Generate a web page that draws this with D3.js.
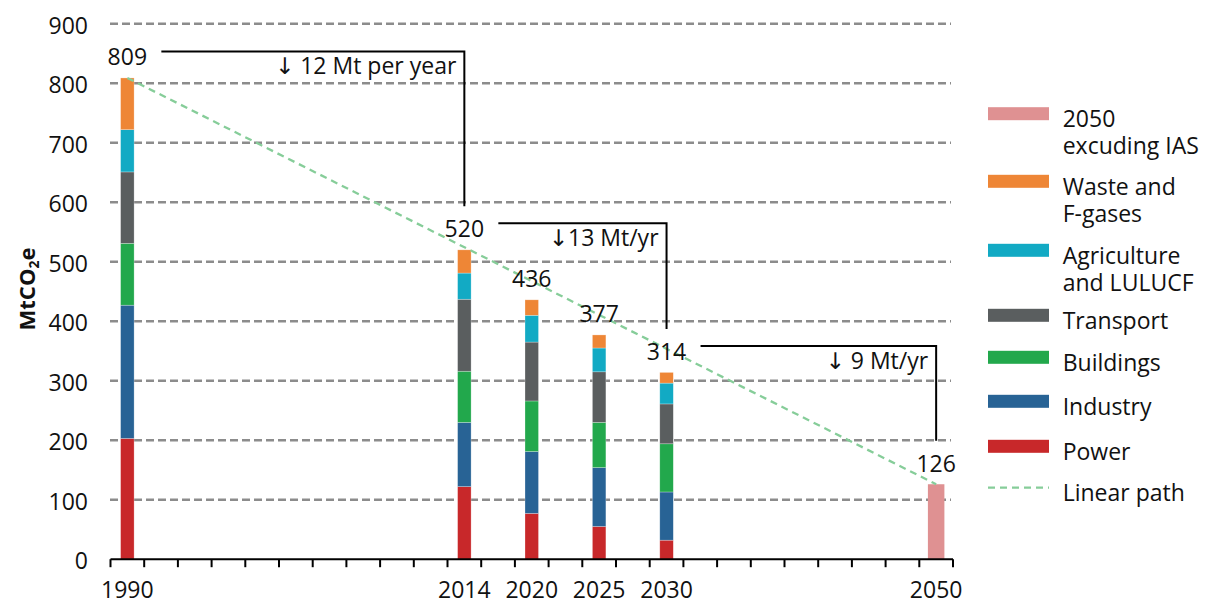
<!DOCTYPE html>
<html>
<head>
<meta charset="utf-8">
<script src="https://cdn.jsdelivr.net/npm/d3@7"></script>
<style>
  html, body { margin: 0; padding: 0; background: #fff; }
  svg { display: block; font-family: "Open Sans", "DejaVu Sans", sans-serif; }
</style>
</head>
<body>
<svg id="chart" width="1214" height="605"></svg>
<script>
// Category slots along the x axis (each slot ~2.5 years); only some carry a year label
const slotCount = 25;
const years = ["1990", "2014", "2020", "2025", "2030", "2050"];
const yearSlots = [0, 10, 12, 14, 16, 24];

// Emissions by sector, MtCO2e, for 1990, 2014, 2020, 2025, 2030
const power       = [203, 122, 77, 55, 32];
const industry    = [224, 108, 104, 99, 81];
const buildings   = [104, 86, 85, 76, 81];
const transport   = [120, 121, 99, 85, 67];
const agriculture = [71, 44, 45, 40, 35];
const waste       = [87, 39, 26, 22, 18];

// 2050 target excluding IAS
const target2050 = 126;

// Linear path end points
const linearPathSlots = [0, 24];
const linearPathValues = [809, 126];

const yTicks = [0, 100, 200, 300, 400, 500, 600, 700, 800, 900];

const sectorNames = ["Power", "Industry", "Buildings", "Transport", "Agriculture and LULUCF", "Waste and F-gases"];
const sectorSeries = [power, industry, buildings, transport, agriculture, waste];
const sectorColors = ["#c8282a", "#286395", "#22a84c", "#5a5e5f", "#12aac4", "#ee8636"];
const targetColor = "#df9192";
const pathColor = "#86cd99";

// Reduction annotations: from bar index to bar index (index 5 = 2050)
const reductions = [
  { from: 0, to: 1, text: "\u2193 12 Mt per year" },
  { from: 1, to: 4, text: "\u219313 Mt/yr" },
  { from: 4, to: 5, text: "\u2193 9 Mt/yr" }
];

// Legend entries, top to bottom
const legendItems = [
  { lines: ["2050", "excuding IAS"], color: targetColor, y: 113.7 },
  { lines: ["Waste and", "F-gases"], color: sectorColors[5], y: 181.3 },
  { lines: ["Agriculture", "and LULUCF"], color: sectorColors[4], y: 250.3 },
  { lines: ["Transport"], color: sectorColors[3], y: 315.3 },
  { lines: ["Buildings"], color: sectorColors[2], y: 357.3 },
  { lines: ["Industry"], color: sectorColors[1], y: 401.3 },
  { lines: ["Power"], color: sectorColors[0], y: 446.3 },
  { lines: ["Linear path"], color: pathColor, y: 487.7, dashed: true }
];

const svg = d3.select("#chart");
const FONT = 23;

const x = d3.scaleBand().domain(d3.range(slotCount)).range([110.5, 953]).padding(0);
const y = d3.scaleLinear().domain([0, 900]).range([559.2, 23.8]);
const cx = slot => x(slot) + x.bandwidth() / 2;

// Gridlines
svg.append("g").selectAll("line")
  .data(yTicks.filter(t => t > 0))
  .join("line")
  .attr("x1", 110).attr("x2", 951)
  .attr("y1", d => y(d)).attr("y2", d => y(d))
  .attr("stroke", "#8c8c8c").attr("stroke-width", 2.4)
  .attr("stroke-dasharray", "8,4");

// Y axis labels
const yAxis = svg.append("g")
  .attr("transform", "translate(110,0)")
  .call(d3.axisLeft(y).tickValues(yTicks).tickSize(0).tickPadding(22));
yAxis.select(".domain").remove();
yAxis.selectAll("text").attr("font-size", FONT).attr("font-family", "Open Sans").attr("fill", "#111").attr("dy", "0.42em");

// Y axis title
const yTitle = svg.append("text")
  .attr("transform", "translate(35,289) rotate(-90)")
  .attr("text-anchor", "middle")
  .attr("font-size", 22).attr("font-weight", "bold").attr("fill", "#111");
yTitle.append("tspan").text("MtCO");
yTitle.append("tspan").text("2").attr("font-size", 14).attr("dy", "0.3em");
yTitle.append("tspan").text("e").attr("dy", "-0.2em");

// Stacked bars
const barW = 13.5;
const stackData = years.slice(0, 5).map((yr, i) => {
  const row = { slot: yearSlots[i] };
  sectorNames.forEach((n, k) => row[n] = sectorSeries[k][i]);
  return row;
});
const stacked = d3.stack().keys(sectorNames)(stackData);
const totals = stackData.map(r => d3.sum(sectorNames, n => r[n]));

svg.append("g").selectAll("g")
  .data(stacked)
  .join("g")
  .attr("fill", (d, i) => sectorColors[i])
  .selectAll("rect")
  .data(d => d)
  .join("rect")
  .attr("x", d => cx(d.data.slot) - barW / 2)
  .attr("width", barW)
  .attr("y", d => y(d[1]))
  .attr("height", d => y(d[0]) - y(d[1]))
  .attr("stroke", "rgba(255,255,255,0.45)")
  .attr("stroke-width", 0.6);

// 2050 bar
const targetW = 16.5;
svg.append("rect")
  .attr("x", cx(yearSlots[5]) - targetW / 2)
  .attr("width", targetW)
  .attr("y", y(target2050))
  .attr("height", y(0) - y(target2050))
  .attr("fill", targetColor);

// Linear path
svg.append("path")
  .datum(linearPathSlots.map((s, i) => [cx(s), y(linearPathValues[i])]))
  .attr("d", d3.line())
  .attr("fill", "none")
  .attr("stroke", pathColor).attr("stroke-width", 2.3)
  .attr("stroke-dasharray", "7,5");

// X axis
svg.append("line")
  .attr("x1", x(0)).attr("x2", x.range()[1])
  .attr("y1", y(0)).attr("y2", y(0))
  .attr("stroke", "#000").attr("stroke-width", 2);
svg.append("g").selectAll("line")
  .data(d3.range(slotCount + 1))
  .join("line")
  .attr("x1", d => x(0) + d * x.bandwidth()).attr("x2", d => x(0) + d * x.bandwidth())
  .attr("y1", y(0)).attr("y2", y(0) + 8)
  .attr("stroke", "#000").attr("stroke-width", 2);
const xAxis = svg.append("g")
  .attr("transform", `translate(0,${y(0)})`)
  .call(d3.axisBottom(x).tickValues(yearSlots).tickFormat((d, i) => years[i]).tickSize(0).tickPadding(22.5));
xAxis.select(".domain").remove();
xAxis.selectAll("text").attr("font-size", FONT).attr("font-family", "Open Sans").attr("fill", "#111");

// Value labels
const barTotals = totals.concat([target2050]);
const barSlots = yearSlots;
const labelBase = i => y(barTotals[i]) - 12.5;
svg.append("g").selectAll("text")
  .data(barTotals)
  .join("text")
  .attr("x", (d, i) => cx(barSlots[i]))
  .attr("y", (d, i) => labelBase(i))
  .attr("text-anchor", "middle")
  .attr("font-size", FONT).attr("fill", "#111")
  .text(d => d);

// Reduction brackets
reductions.forEach(r => {
  const x0 = cx(barSlots[r.from]) + 34;
  const x1 = cx(barSlots[r.to]);
  const yTop = labelBase(r.from) - 14;
  const yEnd = labelBase(r.to) - 31;
  svg.append("path")
    .attr("d", `M${x0},${yTop}H${x1}V${yEnd}`)
    .attr("fill", "none").attr("stroke", "#000").attr("stroke-width", 2);
  svg.append("text")
    .attr("x", x1 - 8).attr("y", yTop + 23)
    .attr("text-anchor", "end")
    .attr("font-size", FONT).attr("fill", "#111")
    .text(r.text);
});

// Legend
const legend = svg.append("g");
legendItems.forEach(item => {
  if (item.dashed) {
    legend.append("line")
      .attr("x1", 988).attr("x2", 1049).attr("y1", item.y).attr("y2", item.y)
      .attr("stroke", item.color).attr("stroke-width", 2.3).attr("stroke-dasharray", "7,5");
  } else {
    legend.append("rect")
      .attr("x", 988).attr("y", item.y - 6.5).attr("width", 61).attr("height", 13)
      .attr("fill", item.color);
  }
  const t = legend.append("text")
    .attr("x", 1062.7).attr("y", item.y + 13.5)
    .attr("font-size", FONT).attr("fill", "#111");
  item.lines.forEach((ln, k) => {
    t.append("tspan").attr("x", 1062.7).attr("dy", k === 0 ? 0 : 26.7).text(ln);
  });
});
</script>
</body>
</html>
